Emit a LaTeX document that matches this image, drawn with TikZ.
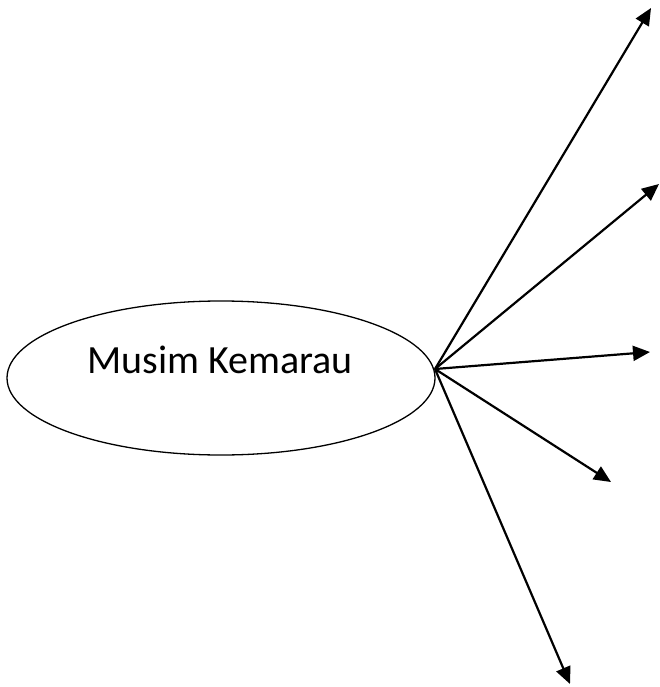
\documentclass[tikz,border=0pt]{standalone}
\usepackage{fontspec}
\setmainfont{Carlito}
\usetikzlibrary{arrows.meta}
\begin{document}
\begin{tikzpicture}[x=1pt,y=-1pt,
  conn/.style={line width=2.2pt,-{Triangle[length=17pt,width=15pt]}},
  oval/.style={draw,line width=1.3pt}]
\useasboundingbox (0,0) rectangle (659,687);
\draw[oval] (221,378) ellipse [x radius=214, y radius=77];
\node[font=\fontsize{40}{48}\selectfont,inner sep=0pt,anchor=base] (lbl) at (220,373) {Musim Kemarau};
\coordinate (o) at (435,369);
\coordinate (t1) at (651,8);
\coordinate (t2) at (659,184);
\coordinate (t3) at (650,352);
\coordinate (t4) at (611,482);
\coordinate (t5) at (570,684);
\foreach \t in {t1,t2,t3,t4,t5} \draw[conn] (o) -- (\t);
\end{tikzpicture}
\end{document}
